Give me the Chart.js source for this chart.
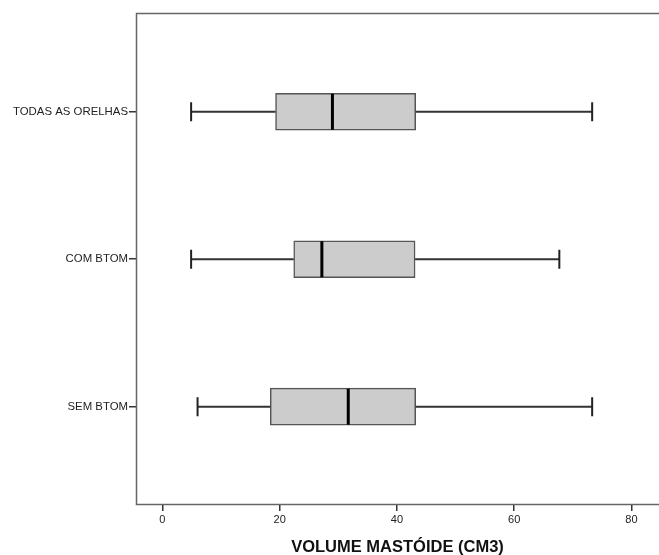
<!DOCTYPE html>
<html>
<head>
<meta charset="utf-8">
<script src="https://cdn.jsdelivr.net/npm/chart.js@4/dist/chart.umd.min.js"></script>
<style>
html,body{margin:0;padding:0;background:#fff;}
#wrap{width:659px;height:555px;position:relative;}
</style>
</head>
<body>
<div id="wrap"><canvas id="c" width="659" height="555"></canvas></div>
<script>
// ---- data ----
const categories = ["TODAS AS ORELHAS", "COM BTOM", "SEM BTOM"];
const whiskerMin = [4.9, 4.9, 6.0];
const q1Values   = [19.3, 22.4, 18.4];
const medians    = [29.0, 27.2, 31.7];
const q3Values   = [43.2, 43.1, 43.2];
const whiskerMax = [73.3, 67.7, 73.3];
const xTickValues = [0, 20, 40, 60, 80];
const xAxisTitle = "VOLUME MASTÓIDE (CM3)";

const FONT = "'Liberation Sans', Arial, sans-serif";

const boxData = categories.map((c, i) => ({ x: [q1Values[i], q3Values[i]], y: i }));

const boxPlugin = {
  id: 'boxExtras',
  afterDatasetsDraw(chart) {
    const ctx = chart.ctx;
    const xs = chart.scales.x, ys = chart.scales.y;
    ctx.save();
    categories.forEach((c, i) => {
      const yc = ys.getPixelForValue(i);
      const capH = 19;
      const xmin = xs.getPixelForValue(whiskerMin[i]);
      const xq1 = xs.getPixelForValue(q1Values[i]);
      const xq3 = xs.getPixelForValue(q3Values[i]);
      const xmax = xs.getPixelForValue(whiskerMax[i]);
      const xmed = xs.getPixelForValue(medians[i]);
      ctx.strokeStyle = '#333';
      ctx.lineWidth = 2;
      ctx.beginPath();
      ctx.moveTo(xmin, yc); ctx.lineTo(xq1, yc);
      ctx.moveTo(xq3, yc); ctx.lineTo(xmax, yc);
      ctx.stroke();
      ctx.lineWidth = 2;
      ctx.strokeStyle = '#222';
      ctx.beginPath();
      ctx.moveTo(xmin, yc - capH/2); ctx.lineTo(xmin, yc + capH/2);
      ctx.moveTo(xmax, yc - capH/2); ctx.lineTo(xmax, yc + capH/2);
      ctx.stroke();
      // median
      const half = 18;
      ctx.strokeStyle = '#000';
      ctx.lineWidth = 3;
      ctx.beginPath();
      ctx.moveTo(xmed, yc - half); ctx.lineTo(xmed, yc + half);
      ctx.stroke();
    });
    // frame
    const a = chart.chartArea;
    ctx.strokeStyle = '#666';
    ctx.lineWidth = 1.5;
    ctx.strokeRect(a.left + 0.5, a.top + 0.5, a.right - a.left + 5, a.bottom - a.top);
    ctx.restore();
  }
};

new Chart(document.getElementById('c'), {
  type: 'bar',
  data: {
    datasets: [{
      data: boxData,
      backgroundColor: '#cccccc',
      borderColor: '#555',
      borderWidth: 1.5,
      borderSkipped: false,
      barThickness: 37
    }]
  },
  plugins: [boxPlugin],
  options: {
    responsive: false,
    animation: false,
    indexAxis: 'y',
    layout: { padding: { left: 0, right: 0, top: 13, bottom: 0 } },
    plugins: { legend: { display: false }, tooltip: { enabled: false } },
    scales: {
      x: {
        type: 'linear',
        min: -4.5,
        max: 84.7,
        offset: false,
        afterBuildTicks(scale) { scale.ticks = xTickValues.map(v => ({ value: v })); },
        afterFit(scale) { scale.height = 51; },
        border: { display: false },
        grid: { drawOnChartArea: false, offset: false, tickLength: 7, color: '#333', lineWidth: 1.5 },
        ticks: { color: '#222', font: { family: FONT, size: 11 }, padding: 2, maxRotation: 0 },
        title: { display: true, text: xAxisTitle, color: '#111', font: { family: FONT, size: 16.5, weight: 'bold', lineHeight: 0.9 }, padding: { top: 0, bottom: 0 } }
      },
      y: {
        type: 'linear',
        reverse: true,
        offset: false,
        min: -0.67,
        max: 2.66,
        afterBuildTicks(scale) { scale.ticks = categories.map((c, i) => ({ value: i })); },
        afterFit(scale) { scale.width = 136; },
        border: { display: false },
        grid: { drawOnChartArea: false, offset: false, tickLength: 7, color: '#333', lineWidth: 1.5 },
        ticks: { color: '#222', font: { family: FONT, size: 11.4 }, padding: 1, callback: (v) => categories[v] }
      }
    }
  }
});
</script>
</body>
</html>
